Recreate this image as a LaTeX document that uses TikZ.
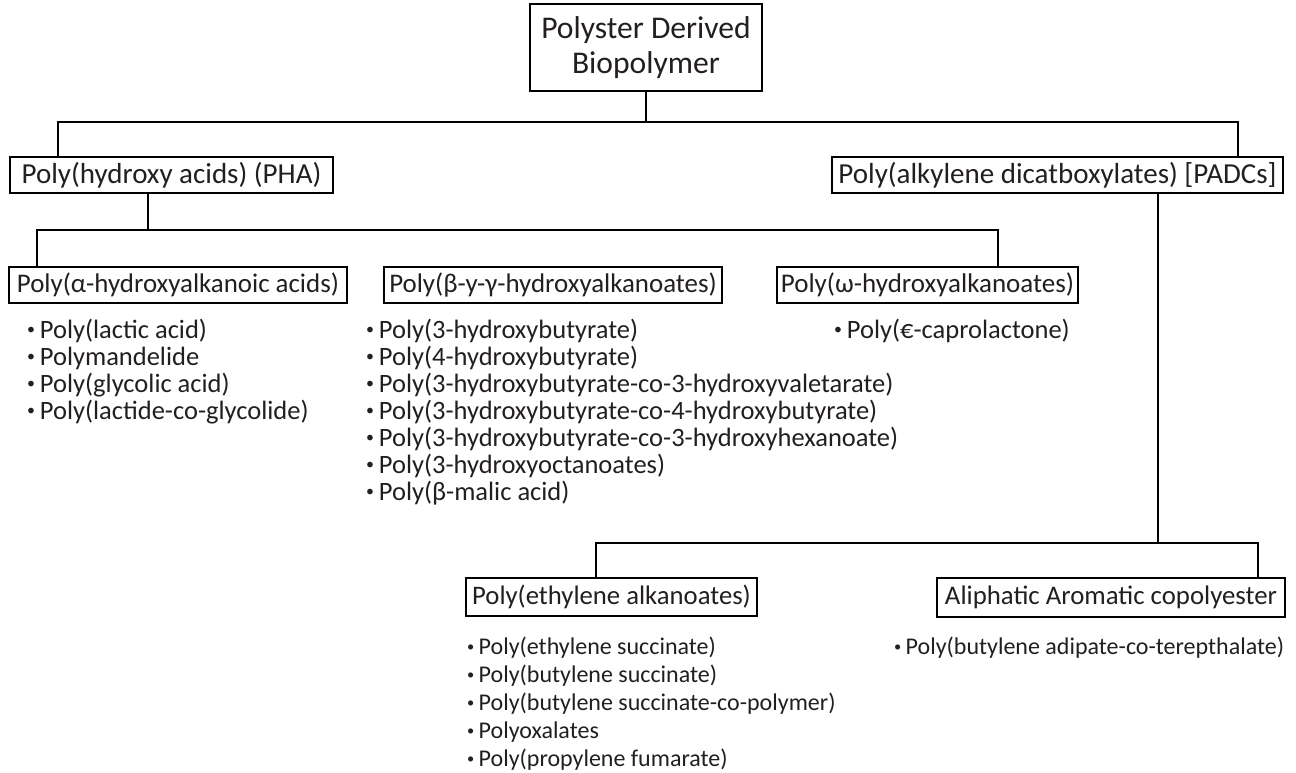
\documentclass[tikz,border=0pt]{standalone}
\usepackage{fontspec}
\setmainfont{Carlito}
\usetikzlibrary{calc}
\definecolor{txt}{HTML}{231F20}
\newcommand\bul{\raisebox{0.12em}{\scalebox{0.6}{\textbullet}}\kern0.18em}
\begin{document}
\begin{tikzpicture}[x=1pt,y=-1pt,
  conn/.style={line width=2.1pt, draw=black},
  hbox/.style={draw, line width=2.1pt, inner sep=0pt, text=txt},
  fs/.style={font=\fontsize{#1}{#1}\selectfont},
  item/.style={anchor=base west, inner sep=0pt, text=txt, fs=26.5},
  sitem/.style={item, fs=24}]
\useasboundingbox[fill=white] (0,0) rectangle (1296,772);

% boxes
\node[hbox, minimum width=232pt, minimum height=87pt, align=center,
      font=\fontsize{31.6}{35}\selectfont] (top) at (646,47.5) {Polyster Derived\\Biopolymer};
\node[hbox, fs=29, minimum width=323pt, minimum height=36pt] (pha) at (171.5,175) {Poly(hydroxy acids) (PHA)};
\node[hbox, fs=29, minimum width=451pt, minimum height=36pt] (padc) at (1057.5,175) {Poly(alkylene dicatboxylates) [PADCs]};
\node[hbox, fs=26.9, minimum width=338pt, minimum height=36pt] (alpha) at (178,285) {Poly(α-hydroxyalkanoic acids)};
\node[hbox, fs=26.9, minimum width=338pt, minimum height=36pt] (beta) at (553,285) {Poly(β-y-γ-hydroxyalkanoates)};
\node[hbox, fs=27, minimum width=301pt, minimum height=36pt] (omega) at (927.5,285) {Poly(ω-hydroxyalkanoates)};
\node[hbox, fs=26.7, minimum width=291pt, minimum height=38pt] (eth) at (611.5,597) {Poly(ethylene alkanoates)};
\node[hbox, fs=26.8, minimum width=348pt, minimum height=39pt] (aliph) at (1111,597.5) {Aliphatic Aromatic copolyester};

% bus coordinates
\coordinate (b1) at (646,122);
\coordinate (b2) at (148,230);
\coordinate (b3) at (1158,543);

% connectors
\draw[conn] (top.south) -- (b1);
\draw[conn] ($(pha.north west)+(49,0)$) |- (b1) -| ($(padc.north east)+(-46,0)$);
\draw[conn] (pha.south -| b2) -- (b2);
\draw[conn] ($(alpha.north west)+(29,0)$) |- (b2) -| ($(omega.north east)+(-81,0)$);
\draw[conn] ($(beta.north west)+(134,0)$) -- ($(beta.north west)+(134,0)$ |- b2);
\draw[conn] (padc.south -| b3) -- (b3);
\draw[conn] ($(eth.north west)+(131,0)$) |- (b3) -| ($(aliph.north east)+(-28,0)$);

% alpha list
\node[item] (a1) at (27,338) {\bul Poly(lactic acid)};
\node[item] (a2) at (27,365) {\bul Polymandelide};
\node[item] (a3) at (27,392) {\bul Poly(glycolic acid)};
\node[item] (a4) at (27,419) {\bul Poly(lactide-co-glycolide)};

% beta list
\node[item] (c1) at (366,338) {\bul Poly(3-hydroxybutyrate)};
\node[item] (c2) at (366,365) {\bul Poly(4-hydroxybutyrate)};
\node[item] (c3) at (366,392) {\bul Poly(3-hydroxybutyrate-co-3-hydroxyvaletarate)};
\node[item] (c4) at (366,419) {\bul Poly(3-hydroxybutyrate-co-4-hydroxybutyrate)};
\node[item] (c5) at (366,446) {\bul Poly(3-hydroxybutyrate-co-3-hydroxyhexanoate)};
\node[item] (c6) at (366,473) {\bul Poly(3-hydroxyoctanoates)};
\node[item] (c7) at (366,500) {\bul Poly(β-malic acid)};

% omega list
\node[item] (o1) at (834,338) {\bul Poly(€-caprolactone)};

% ethylene list
\node[sitem] (e1) at (467,654) {\bul Poly(ethylene succinate)};
\node[sitem] (e2) at (467,682) {\bul Poly(butylene succinate)};
\node[sitem] (e3) at (467,710) {\bul Poly(butylene succinate-co-polymer)};
\node[sitem] (e4) at (467,738) {\bul Polyoxalates};
\node[sitem] (e5) at (467,766) {\bul Poly(propylene fumarate)};

% aliphatic aromatic list
\node[sitem] (p1) at (894,654) {\bul Poly(butylene adipate-co-terepthalate)};
\end{tikzpicture}
\end{document}
